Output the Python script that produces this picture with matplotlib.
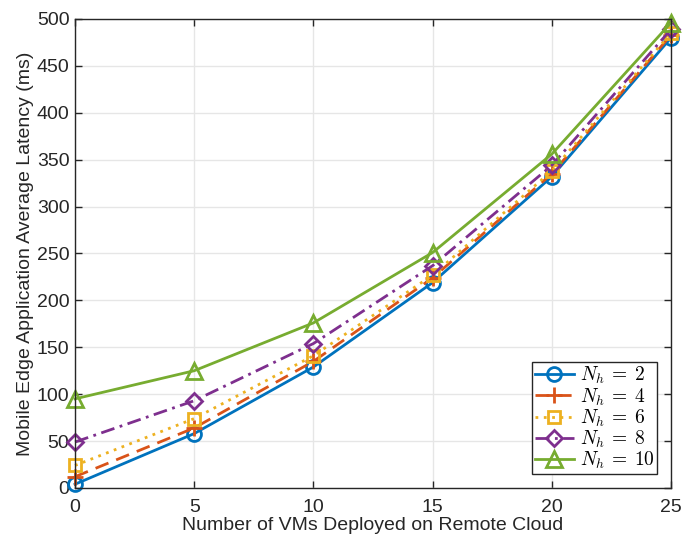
import matplotlib
matplotlib.use("Agg")
import matplotlib.pyplot as plt

x_vms = [0, 5, 10, 15, 20, 25]
lat_nh2 = [4, 58, 129, 219, 332, 480]
lat_nh4 = [12, 64, 135, 224, 335, 483]
lat_nh6 = [24, 74, 141, 227, 338, 485]
lat_nh8 = [49, 93, 154, 237, 344, 489]
lat_nh10 = [95, 125, 176, 251, 356, 496]
labels = [r"$N_h\:=\:2$", r"$N_h\:=\:4$", r"$N_h\:=\:6$", r"$N_h\:=\:8$", r"$N_h\:=\:10$"]

plt.rcParams['font.family'] = ['Liberation Sans', 'DejaVu Sans']
plt.rcParams['mathtext.fontset'] = 'cm'

fig = plt.figure(figsize=(6.82, 5.41), dpi=100)
ax = fig.add_axes([0.110, 0.098, 0.874, 0.867])

series = [lat_nh2, lat_nh4, lat_nh6, lat_nh8, lat_nh10]
colors = ['#0072BD', '#D95319', '#EDB120', '#7E2F8E', '#77AC30']
styles = ['-', (0, (5, 3)), (0, (1, 2)), (0, (5, 2, 1, 2)), '-']
markers = ['o', '+', 's', 'D', '^']
msizes = [10, 12, 9, 8, 11]

for s, c, ls, m, ms, lab in zip(series, colors, styles, markers, msizes, labels):
    ax.plot(x_vms, s, color=c, linestyle=ls, marker=m, markersize=ms,
            markerfacecolor='none', markeredgewidth=2, linewidth=2, label=lab,
            clip_on=False, zorder=3)

ax.set_xlim(0, 25)
ax.set_ylim(0, 500)
ax.set_xticks(x_vms)
ax.set_yticks(range(0, 501, 50))
ax.grid(True, color='#e6e6e6', linewidth=1)
ax.set_axisbelow(True)
ax.tick_params(direction='in', top=True, right=True, labelsize=14, colors='#262626',
               length=5, width=1)
ax.tick_params(axis='x', pad=8)
ax.tick_params(axis='y', pad=4)
for sp in ax.spines.values():
    sp.set_color('#262626')
    sp.set_linewidth(1)
    sp.set_zorder(4)
ax.set_xlabel("Number of VMs Deployed on Remote Cloud", fontsize=14, color='#262626', labelpad=1)
ax.set_ylabel("Mobile Edge Application Average Latency (ms)", fontsize=14, color='#262626', labelpad=2)

leg = ax.legend(loc='lower right', fontsize=14, fancybox=False, framealpha=1,
                edgecolor='#262626', borderpad=0.15, labelspacing=0.0,
                handlelength=2.0, handletextpad=0.3, borderaxespad=0.7)
leg.get_frame().set_linewidth(1)
leg.set_zorder(5)

fig.savefig("out.png", dpi=100)
